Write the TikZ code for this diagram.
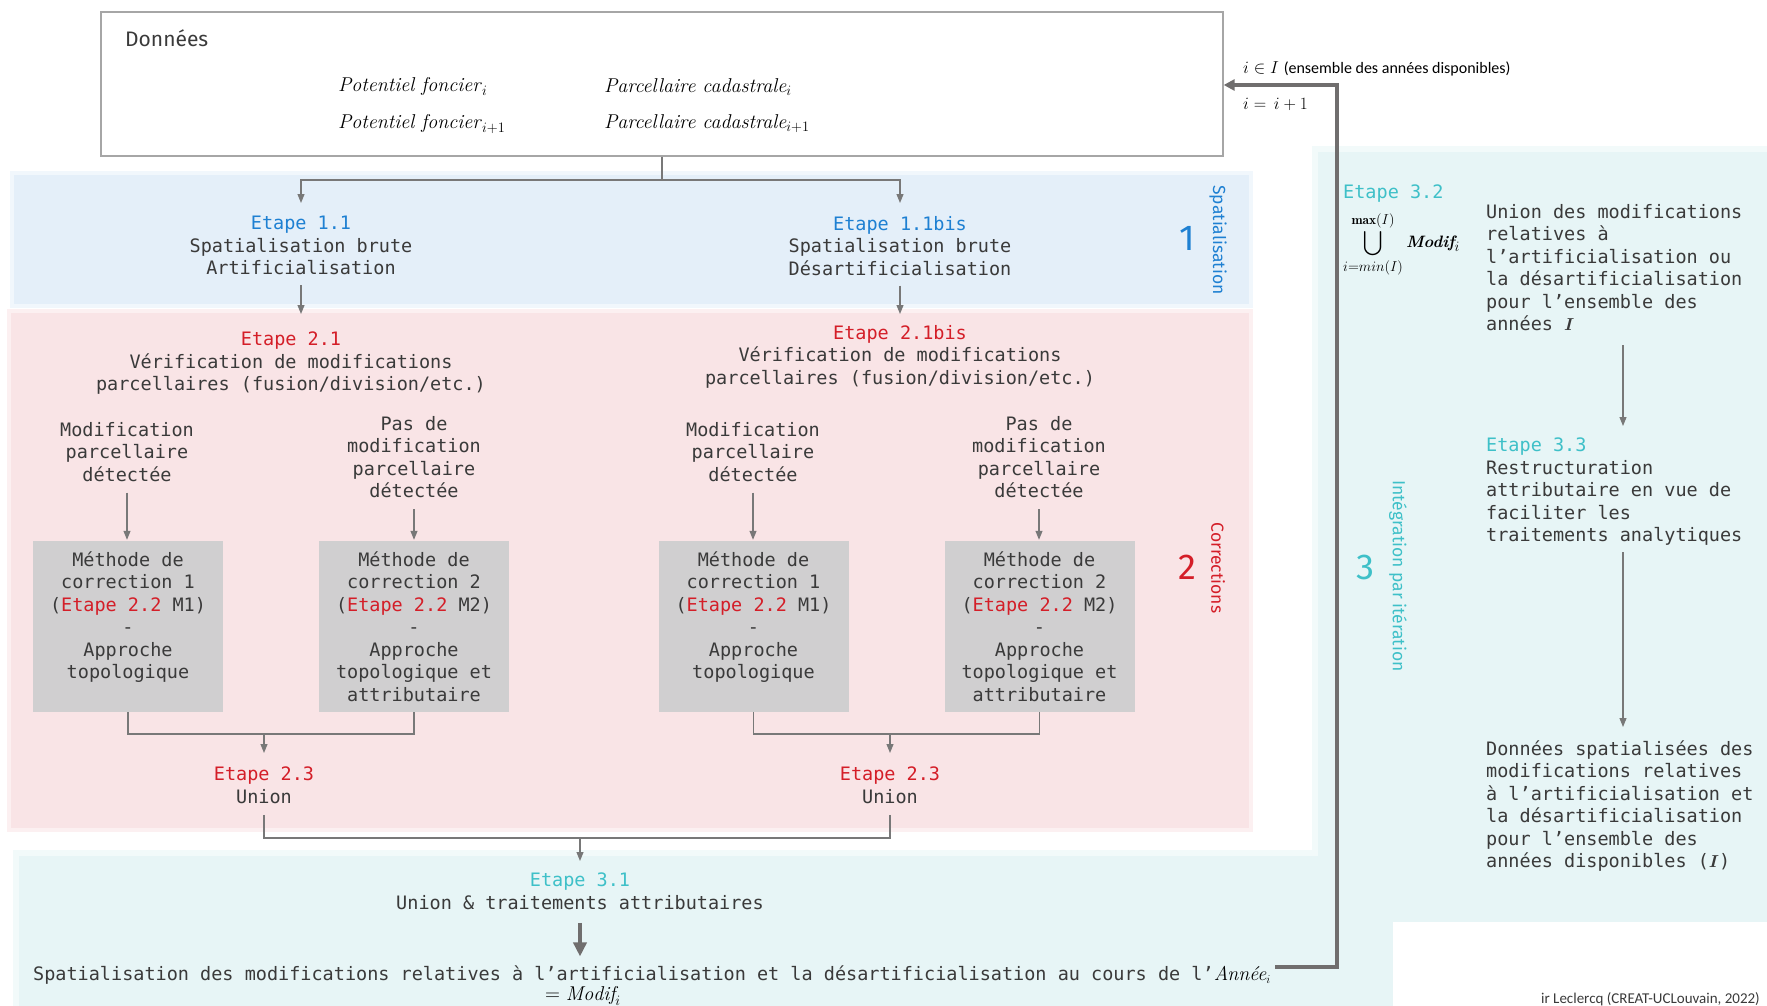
\documentclass[tikz,border=0pt]{standalone}
\usepackage{amsmath}
\usepackage{fontspec}
\usetikzlibrary{arrows.meta,calc}
\setmonofont{DejaVu Sans Mono}
\newfontfamily\credfont{Carlito}
\newfontfamily\lightsans{Fira Sans}
\newcommand\monotext{\ttfamily\fontsize{18.5}{22.5}\selectfont}

\definecolor{txtgray}{RGB}{58,58,58}
\definecolor{linegray}{RGB}{120,120,120}
\definecolor{boxline}{RGB}{166,166,166}
\definecolor{loopgray}{RGB}{112,110,110}
\definecolor{etblue}{RGB}{30,128,210}
\definecolor{etred}{RGB}{212,30,40}
\definecolor{etteal}{RGB}{62,192,200}
\definecolor{bandblue}{RGB}{228,239,249}
\definecolor{bandblueout}{RGB}{241,247,252}
\definecolor{bandred}{RGB}{249,228,230}
\definecolor{bandredout}{RGB}{252,240,241}
\definecolor{bandteal}{RGB}{231,245,246}
\definecolor{bandtealout}{RGB}{242,250,250}
\definecolor{boxgray}{RGB}{208,207,208}

\begin{document}
\begin{tikzpicture}[x=1pt,y=-1pt,
  txt/.style={font=\monotext, text=txtgray, align=center, inner sep=0pt, anchor=north},
  ltxt/.style={font=\monotext, text=txtgray, align=left, inner sep=0pt, anchor=north west},
  conn/.style={draw=linegray, line width=1.1pt, -{Triangle[length=9pt,width=7pt]}},
  plain/.style={draw=linegray, line width=1.1pt},
  graybox/.style={fill=boxgray, minimum width=190pt, minimum height=171pt, inner sep=0pt,
                  font=\monotext, text=txtgray, align=center},
  formula/.style={font=\fontsize{20}{24}\selectfont, text=black, inner sep=0pt, anchor=west},
  bignum/.style={font=\lightsans\fontsize{36}{40}\selectfont, inner sep=0pt},
  vlabel/.style={font=\lightsans\fontsize{17.5}{20}\selectfont, inner sep=0pt, rotate=-90},
  loopline/.style={draw=loopgray, line width=4pt},
]
\useasboundingbox (0,0) rectangle (1767,1006);

% ---- coloured bands ----
\fill[bandblueout] (10,171) rectangle (1253,308);
\fill[bandblue] (14,175) rectangle (1249,304);
\fill[bandredout] (7,309) rectangle (1253,832);
\fill[bandred] (11,313) rectangle (1249,828);
\fill[bandtealout] (1312,146) rectangle (1767,922);
\fill[bandtealout] (13,850) rectangle (1393,1006);
\fill[bandteal] (1318,152) rectangle (1767,922);
\fill[bandteal] (19,856) rectangle (1393,1006);

% ---- input data ----
\node[draw=boxline, line width=1.3pt, minimum width=1122pt, minimum height=144pt, inner sep=0pt] (data) at (662,84) {};
\node[font=\lightsans\fontsize{21}{24}\selectfont, text=txtgray, anchor=west, inner sep=0pt] (datatitle) at (125,38) {Données};
\node[formula] (pf1) at (338,87) {\textit{Potentiel foncier}$_{i}$};
\node[formula] (pf2) at (338,124) {\textit{Potentiel foncier}$_{i+1}$};
\node[formula] (pc1) at (604,87) {\textit{Parcellaire cadastrale}$_{i}$};
\node[formula] (pc2) at (604,124) {\textit{Parcellaire cadastrale}$_{i+1}$};

% ---- step 1 ----
\node[txt] (e11) at (301,216) {{\color{etblue}Etape 1.1}\\Spatialisation brute\\Artificialisation};
\node[txt] (e11b) at (900,216) {{\color{etblue}Etape 1.1bis}\\Spatialisation brute\\Désartificialisation};
\node[bignum, text=etblue] (n1) at (1187,238) {1};
\node[vlabel, text=etblue] (l1) at (1218,240) {Spatialisation};

% ---- step 2 ----
\node[txt] (e21) at (291,332) {{\color{etred}Etape 2.1}\\Vérification de modifications\\parcellaires (fusion/division/etc.)};
\node[txt] (e21b) at (900,325) {{\color{etred}Etape 2.1bis}\\Vérification de modifications\\parcellaires (fusion/division/etc.)};
\node[txt] (mod1) at (127,422) {Modification\\parcellaire\\détectée};
\node[txt] (nomod1) at (414,416) {Pas de\\modification\\parcellaire\\détectée};
\node[txt] (mod2) at (753,422) {Modification\\parcellaire\\détectée};
\node[txt] (nomod2) at (1039,416) {Pas de\\modification\\parcellaire\\détectée};

\node[graybox] (m11) at (128,626.5) {Méthode de\\correction 1\\(\textcolor{etred}{Etape 2.2} M1)\\-\\Approche\\topologique\\\mbox{}};
\node[graybox] (m21) at (414,626.5) {Méthode de\\correction 2\\(\textcolor{etred}{Etape 2.2} M2)\\-\\Approche\\topologique et\\attributaire};
\node[graybox] (m12) at (753.5,626.5) {Méthode de\\correction 1\\(\textcolor{etred}{Etape 2.2} M1)\\-\\Approche\\topologique\\\mbox{}};
\node[graybox] (m22) at (1039.5,626.5) {Méthode de\\correction 2\\(\textcolor{etred}{Etape 2.2} M2)\\-\\Approche\\topologique et\\attributaire};

\node[txt] (e23a) at (264,767) {{\color{etred}Etape 2.3}\\Union};
\node[txt] (e23b) at (890,767) {{\color{etred}Etape 2.3}\\Union};
\node[bignum, text=etred] (n2) at (1187,567) {2};
\node[vlabel, text=etred] (l2) at (1218,568) {Corrections};

% ---- step 3 ----
\node[txt] (e31) at (580,873) {{\color{etteal}Etape 3.1}\\Union \& traitements attributaires};
\node[txt, anchor=center] (fin) at (652,975) {Spatialisation des modifications relatives à l’artificialisation et la désartificialisation au cours de l’{\color{black}\rmfamily\itshape\fontsize{20}{22}\selectfont Année}{\color{black}$_i$}};
\node[formula, anchor=center] (finb) at (583,996) {$=\mathit{Modif}_i$};

\node[font=\monotext, text=etteal, anchor=west, inner sep=0pt] (e32) at (1343,194) {Etape 3.2};
\node[font=\fontsize{19}{23}\selectfont, text=black, anchor=west, inner sep=0pt] (cup) at (1343,244)
  {$\displaystyle\bigcup_{i=min(I)}^{\mathbf{max}(I)}$\,{\fontsize{16.5}{20}\selectfont\bfseries\itshape Modif}$_i$};
\node[ltxt] (u32) at (1486,204) {Union des modifications\\relatives à\\l’artificialisation ou\\la désartificialisation\\pour l’ensemble des\\années $\boldsymbol{I}$};
\node[ltxt] (e33) at (1486,438) {{\color{etteal}Etape 3.3}\\Restructuration\\attributaire en vue de\\faciliter les\\traitements analytiques};
\node[ltxt] (res) at (1486,740) {Données spatialisées des\\modifications relatives\\à l’artificialisation et\\la désartificialisation\\pour l’ensemble des\\années disponibles ($\boldsymbol{I}$)};
\node[bignum, text=etteal] (n3) at (1365,567) {3};
\node[vlabel, text=etteal] (l3) at (1398,576) {Intégration par itération};

% ---- iteration labels and credit ----
\node[anchor=west, inner sep=0pt, font=\fontsize{16}{19}\selectfont] (iset) at (1243,69) {$i \in I$ {\credfont (ensemble des années disponibles)}};
\node[anchor=west, inner sep=0pt, font=\fontsize{16}{19}\selectfont] (inext) at (1243,104) {$i =\, i + 1$};
\node[anchor=base east, inner sep=0pt, font=\credfont\fontsize{15}{17}\selectfont, text=txtgray] (credit) at (1760,1003) {ir Leclercq (CREAT-UCLouvain, 2022)};

% ---- connectors ----
\coordinate (split) at (662,180);
\draw[plain] (data.south) -- (split);
\draw[conn, shorten >=13pt] (split) -| (e11.north);
\draw[conn, shorten >=13pt] (split) -| (e11b.north);
\draw[conn, shorten <=10pt, shorten >=18pt] (e11.south) -- (e11.south |- e21.north);
\draw[conn, shorten <=10pt, shorten >=11pt] (e11b.south) -- (e11b.south |- e21b.north);

\draw[conn, shorten <=11pt, shorten >=1pt] (mod1.south) -- (mod1.south |- m11.north);
\draw[conn, shorten <=11pt, shorten >=1pt] (nomod1.south) -- (nomod1.south |- m21.north);
\draw[conn, shorten <=11pt, shorten >=1pt] (mod2.south) -- (mod2.south |- m12.north);
\draw[conn, shorten <=11pt, shorten >=1pt] (nomod2.south) -- (nomod2.south |- m22.north);

\coordinate (j1) at (264,734);
\coordinate (j2) at (890,734);
\draw[plain] (m11.south) |- (j1) -| (m21.south);
\draw[plain] (m12.south) |- (j2) -| (m22.south);
\draw[conn, shorten >=14pt] (j1) -- (e23a.north);
\draw[conn, shorten >=14pt] (j2) -- (e23b.north);

\coordinate (j3) at (580,838);
\draw[plain, shorten <=11pt] (e23a.south) |- (j3);
\draw[plain, shorten <=11pt] (e23b.south) |- (j3);
\draw[conn, shorten >=12pt] (j3) -- (e31.north);
\draw[draw=loopgray, line width=4.5pt, -{Triangle[length=14pt,width=13pt]}, shorten <=13pt, shorten >=9pt] (e31.south) -- (e31.south |- fin.north);

\coordinate (colx) at (1623,0);
\draw[conn, shorten <=14pt, shorten >=12pt] (u32.south -| colx) -- (e33.north -| colx);
\draw[conn, shorten <=6pt, shorten >=13pt] (e33.south -| colx) -- (res.north -| colx);

% ---- iteration loop ----
\coordinate (loopc) at (1337,85);
\draw[loopline, -{Triangle[length=11pt,width=11pt]}] ($(fin.east)+(4,-8)$) -| (loopc) -- (loopc -| data.east);
\end{tikzpicture}
\end{document}
